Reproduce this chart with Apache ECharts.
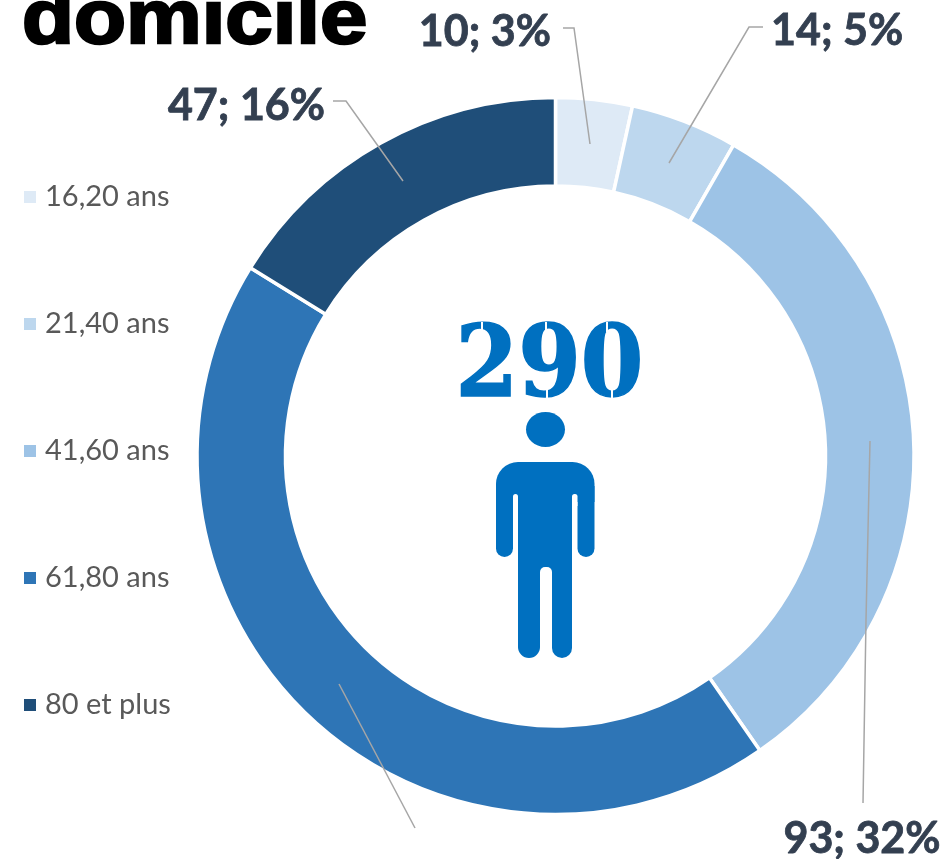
<!DOCTYPE html>
<html><head><meta charset="utf-8">
<style>html,body{margin:0;padding:0;background:#fff}#c{width:947px;height:859px}</style>
<script src="https://cdn.jsdelivr.net/npm/echarts@6/dist/echarts.min.js"></script>
</head><body><div id="c"></div>
<script>
const categories = ['16,20 ans','21,40 ans','41,60 ans','61,80 ans','80 et plus'];
const counts = [10,14,93,126,47];
const colors = ['#DEEAF6','#BDD7EE','#9DC3E6','#2E75B6','#1F4E79'];
const titleText = 'domicile';
const totalText = '290';
const total = counts.reduce((a,b)=>a+b,0);

// label anchor and leader line for each slice
const labelSpots = [
  {x:551,y:32,align:'right',line:[[590,144],[574,28],[563,28]]},
  {x:771,y:31,align:'left',line:[[669,163],[749,27],[763,27]]},
  {x:862,y:839,align:'center',line:[[870,441],[866,620],[863,803]]},
  {x:415,y:885,align:'center',line:[[339,684],[377,756],[415,828]]},
  {x:325,y:106,align:'right',line:[[403,181],[346,101],[333,101]]}
];

const blue = '#0070C0';
const rect = (x,y,w,h,r,fill) => ({type:'rect',silent:true,shape:{x,y,width:w,height:h,r},style:{fill:fill||blue}});
const person = [
  {type:'ellipse',silent:true,shape:{cx:545.5,cy:429.5,rx:19.5,ry:17.5},style:{fill:blue}},
  rect(496,462,98.5,40,[22,22,0,0]),
  rect(496,486,17,71,[0,0,8.5,8.5]),
  rect(577.5,486,17,71,[0,0,8.5,8.5]),
  rect(518,486,54,89,0),
  rect(518,560,22,98,[0,0,11,11]),
  rect(552,560,20,98,[0,0,10,10]),
  rect(513,494,5,12,[2.5,2.5,0,0],'#fff'),
  rect(572,494,5.5,12,[2.5,2.5,0,0],'#fff'),
  rect(540,567,12,12,[5,5,0,0],'#fff')
];
const stencil = [[481,322,2,18],[545,322,2,18],[546,384,2,16],[606,322,2,10],[611,388,2,12]].map(a=>rect(a[0],a[1],a[2],a[3],0,'#fff'));

const sliceData = paint => categories.map((n,i)=>({name:n,value:counts[i],itemStyle:{color:paint(i)}}));
const ring = {type:'pie',center:[555.5,456],radius:[270,358.5],startAngle:90,clockwise:true,silent:true,avoidLabelOverlap:false};

const chart = echarts.init(document.getElementById('c'),null,{renderer:'canvas'});
chart.setOption({
  animation:false,
  backgroundColor:'#fff',
  legend:{orient:'vertical',left:22,top:182,padding:0,itemWidth:14,itemHeight:14,itemGap:97,icon:'rect',
    data:categories,selectedMode:false,
    textStyle:{fontFamily:'Lato',fontSize:29,color:'#595959',padding:[0,0,0,3],lineHeight:30,height:30}},
  graphic:[
    {type:'text',silent:true,x:22,y:60,scaleX:1.12,style:{x:0,y:0,text:titleText,align:'left',verticalAlign:'bottom',
      font:'bold 76px "Liberation Sans"',fill:'#000',stroke:'#000',lineWidth:2.5}},
    {type:'text',silent:true,style:{x:549.5,y:370,text:totalText,align:'center',verticalAlign:'middle',
      font:'bold 100px "DejaVu Serif Condensed"',fill:blue,stroke:blue,lineWidth:1.5}},
    ...stencil,
    ...person
  ],
  series:[
    {...ring,z:2,data:sliceData(i=>colors[i]),
      itemStyle:{borderColor:'#fff',borderWidth:3.5},label:{show:false},labelLine:{show:false}},
    {...ring,z:3,data:sliceData(()=>'rgba(0,0,0,0)'),
      label:{show:true,position:'outside',
        formatter:p=>p.value+'; '+Math.round(p.value/total*100)+'%',
        fontFamily:'Lato',fontWeight:'bold',fontSize:43,color:'#333F50',textBorderColor:'#333F50',textBorderWidth:0.8},
      labelLine:{show:true,length:10,length2:10,lineStyle:{color:'#A6A6A6',width:1.5}},
      labelLayout:p=>{const s=labelSpots[p.dataIndex];
        return {x:s.x,y:s.y,align:s.align,verticalAlign:'middle',labelLinePoints:s.line};}}
  ]
});
</script></body></html>
